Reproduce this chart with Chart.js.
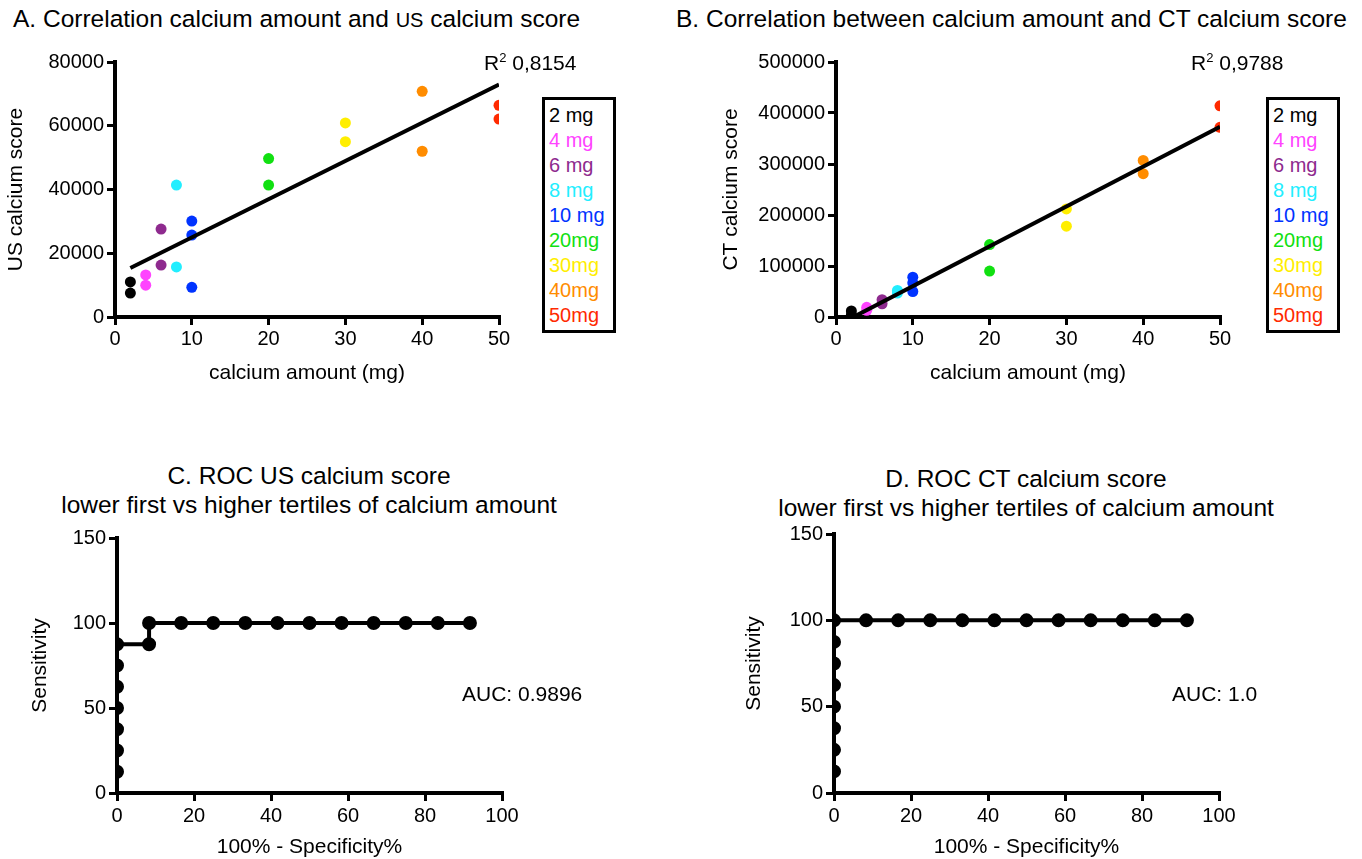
<!DOCTYPE html>
<html lang="en">
<head>
<meta charset="UTF-8">
<title>Calcium amount vs US / CT calcium score</title>
<script src="https://cdn.jsdelivr.net/npm/chart.js"></script>
<style>
    body {
        margin: 0;
        padding: 0;
        background: #fff;
        overflow: hidden;
        font-family: 'Liberation Sans', Arial, sans-serif;
        color: #000;
    }
    .panel { position: absolute; }
    .txt { position: absolute; white-space: nowrap; line-height: 1; }
    .title { font-size: 24.5px; }
    .roc-title { position: absolute; font-size: 24.5px; line-height: 29px; text-align: center; white-space: nowrap; transform: translateX(-50%); }
    .note { font-size: 21px; }
    .note sup { font-size: 13px; vertical-align: 8px; line-height: 0; }
    .legend {
        position: absolute;
        border: 3px solid #000;
        box-sizing: border-box;
        padding: 2.5px 0 0 4px;
        font-size: 20px;
        line-height: 25px;
        background: #fff;
    }
</style>
</head>
<body>
    <div class="txt title" style="left:13px; top:7px;">A. Correlation calcium amount and <span style="font-size:20px">US</span> calcium score</div>
    <div class="txt title" style="left:676px; top:7px;">B. Correlation between calcium amount and CT calcium score</div>
    <div class="roc-title" style="left:309px; top:461px;">C. ROC US calcium score<br>lower first vs higher tertiles of calcium amount</div>
    <div class="roc-title" style="left:1026px; top:464px;">D. ROC CT calcium score<br>lower first vs higher tertiles of calcium amount</div>

    <div class="panel" style="left:0; top:0; width:530px; height:390px;"><canvas id="usChart"></canvas></div>
    <div class="panel" style="left:700px; top:0; width:560px; height:390px;"><canvas id="ctChart"></canvas></div>
    <div class="panel" style="left:0; top:430px; width:540px; height:434px;"><canvas id="rocUsChart"></canvas></div>
    <div class="panel" style="left:700px; top:430px; width:560px; height:434px;"><canvas id="rocCtChart"></canvas></div>

    <div class="txt note" style="left:484px; top:52px;">R<sup>2</sup> 0,8154</div>
    <div class="txt note" style="left:1191px; top:52px;">R<sup>2</sup> 0,9788</div>
    <div class="txt note" style="left:462px; top:683px;">AUC: 0.9896</div>
    <div class="txt note" style="left:1172px; top:683px;">AUC: 1.0</div>

    <div class="legend" id="usLegend" style="left:542px; top:97px; width:74px; height:236px;"></div>
    <div class="legend" id="ctLegend" style="left:1266px; top:97px; width:74px; height:236px;"></div>

<script>
    // calcium amounts (mg) and legend labels
    const doseLabels = ['2 mg', '4 mg', '6 mg', '8 mg', '10 mg', '20mg', '30mg', '40mg', '50mg'];
    const doseAmounts = [2, 4, 6, 8, 10, 20, 30, 40, 50];
    const doseColors = ['#000000', '#ff44ff', '#8e2a8e', '#22eeff', '#0033ff', '#11e011', '#ffee00', '#ff8c00', '#ff2a00'];

    // measured scores per calcium amount
    const usScores = [
        [11000, 7500], [13200, 10000], [27600, 16300], [41400, 15700],
        [30100, 25700, 9300], [49700, 41400], [60900, 55000], [70800, 52000], [66400, 62100]
    ];
    const ctScores = [
        [12000, 4000], [19000, 13000], [34000, 26000], [52000, 47000],
        [78000, 67000, 50000], [142000, 90000], [212000, 178000], [307000, 281000], [414000, 372000]
    ];

    // ROC curves (100% - specificity, sensitivity)
    const rocUsFpr = [0, 0, 0, 0, 0, 0, 0, 8.33, 8.33, 16.67, 25, 33.33, 41.67, 50, 58.33, 66.67, 75, 83.33, 91.67];
    const rocUsSens = [12.5, 25, 37.5, 50, 62.5, 75, 87.5, 87.5, 100, 100, 100, 100, 100, 100, 100, 100, 100, 100, 100];
    const rocCtFpr = [0, 0, 0, 0, 0, 0, 0, 0, 8.33, 16.67, 25, 33.33, 41.67, 50, 58.33, 66.67, 75, 83.33, 91.67];
    const rocCtSens = [12.5, 25, 37.5, 50, 62.5, 75, 87.5, 100, 100, 100, 100, 100, 100, 100, 100, 100, 100, 100, 100];

    Chart.defaults.font.family = "'Liberation Sans', Arial, sans-serif";
    Chart.defaults.color = '#000';

    // legends
    function buildLegend(id) {
        const box = document.getElementById(id);
        doseLabels.forEach((label, i) => {
            const row = document.createElement('div');
            row.textContent = label;
            row.style.color = doseColors[i];
            box.appendChild(row);
        });
    }
    buildLegend('usLegend');
    buildLegend('ctLegend');

    // least squares line over the data range
    function fitLine(scores) {
        const xs = [], ys = [];
        scores.forEach((vals, i) => vals.forEach(v => { xs.push(doseAmounts[i]); ys.push(v); }));
        const n = xs.length;
        const mx = xs.reduce((a, b) => a + b, 0) / n;
        const my = ys.reduce((a, b) => a + b, 0) / n;
        let sxy = 0, sxx = 0;
        for (let i = 0; i < n; i++) {
            sxy += (xs[i] - mx) * (ys[i] - my);
            sxx += (xs[i] - mx) * (xs[i] - mx);
        }
        const slope = sxy / sxx;
        const icept = my - slope * mx;
        const x0 = Math.min(...xs), x1 = Math.max(...xs);
        return [{ x: x0, y: icept + slope * x0 }, { x: x1, y: icept + slope * x1 }];
    }

    function axis(o) {
        return {
            type: 'linear',
            min: o.min,
            max: o.max,
            ticks: {
                stepSize: o.step,
                color: '#000',
                font: { size: 20 },
                padding: o.pad,
                autoSkip: false,
                maxRotation: 0,
                callback: v => String(v)
            },
            grid: { drawOnChartArea: false, color: '#000', lineWidth: 3, tickLength: 8 },
            border: { color: '#000', width: 4 },
            title: { display: true, text: o.title, color: '#000', font: { size: 21 }, padding: 4 },
            afterFit: s => {
                if (o.width) s.width = o.width;
                if (o.height) s.height = o.height;
            }
        };
    }

    const baseOptions = (padding, xAxis, yAxis) => ({
        responsive: true,
        maintainAspectRatio: false,
        animation: false,
        events: [],
        layout: { padding: padding },
        plugins: { legend: { display: false }, tooltip: { enabled: false } },
        scales: { x: xAxis, y: yAxis }
    });

    function scatterChart(id, scores, yMax, yStep, yTitle, padding, yWidth) {
        const datasets = [{
            data: fitLine(scores),
            showLine: true,
            borderColor: '#000',
            borderWidth: 4,
            pointRadius: 0
        }];
        scores.forEach((vals, i) => {
            datasets.push({
                data: vals.map(v => ({ x: doseAmounts[i], y: v })),
                backgroundColor: doseColors[i],
                borderColor: doseColors[i],
                pointRadius: 5.5,
                borderWidth: 0
            });
        });
        new Chart(document.getElementById(id), {
            type: 'scatter',
            data: { datasets: datasets },
            options: baseOptions(padding,
                axis({ min: 0, max: 50, step: 10, pad: 2, title: 'calcium amount (mg)', height: 73 }),
                axis({ min: 0, max: yMax, step: yStep, pad: 3, title: yTitle, width: yWidth }))
        });
    }

    function rocChart(id, fpr, sens, padding, yWidth) {
        new Chart(document.getElementById(id), {
            type: 'scatter',
            data: {
                datasets: [{
                    data: fpr.map((x, i) => ({ x: x, y: sens[i] })),
                    showLine: true,
                    borderColor: '#000',
                    backgroundColor: '#000',
                    borderWidth: 4,
                    pointRadius: 5
                }]
            },
            options: baseOptions(padding,
                axis({ min: 0, max: 100, step: 20, pad: 3, title: '100% - Specificity%', height: 71 }),
                axis({ min: 0, max: 150, step: 50, pad: 3, title: 'Sensitivity', width: yWidth }))
        });
    }

    scatterChart('usChart', usScores, 80000, 20000, 'US calcium score', { top: 62, left: 0, right: 31, bottom: 0 }, 115);
    scatterChart('ctChart', ctScores, 500000, 100000, 'CT calcium score', { top: 62, left: 15, right: 40, bottom: 0 }, 121);
    rocChart('rocUsChart', rocUsFpr, rocUsSens, { top: 108, left: 24, right: 38, bottom: 0 }, 93);
    rocChart('rocCtChart', rocCtFpr, rocCtSens, { top: 104, left: 38, right: 41, bottom: 0 }, 96);
</script>
</body>
</html>
